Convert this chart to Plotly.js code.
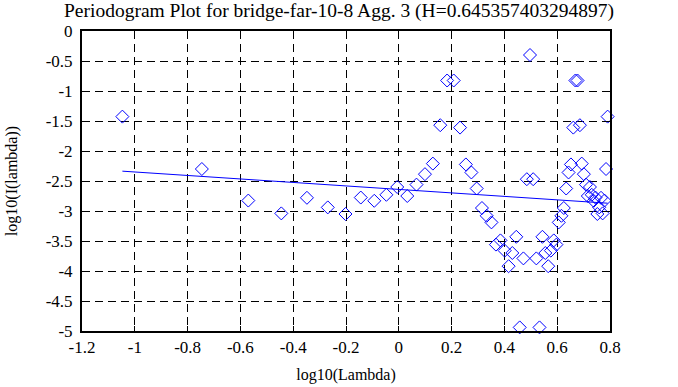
<!DOCTYPE html>
<html>
<head>
<meta charset="utf-8">
<script src="https://cdn.plot.ly/plotly-3.0.1.min.js"></script>
<style>html,body{margin:0;padding:0;background:#fff;}#chart{width:678px;height:387px;}</style>
</head>
<body>
<div id="chart"></div>
<script>
// log10 of frequency
const logLambda = [-1.047,-0.746,-0.570,-0.445,-0.348,-0.269,-0.202,-0.144,-0.093,-0.047,
  -0.006,0.032,0.067,0.099,0.129,0.157,0.183,0.208,0.232,0.254,
  0.275,0.295,0.315,0.333,0.351,0.368,0.385,0.401,0.416,0.430,
  0.445,0.458,0.472,0.485,0.497,0.509,0.521,0.533,0.544,0.555,
  0.566,0.576,0.587,0.597,0.606,0.616,0.625,0.634,0.643,0.652,
  0.661,0.669,0.677,0.686,0.693,0.701,0.709,0.716,0.724,0.731,
  0.738,0.745,0.752,0.759,0.766,0.772,0.779,0.785,0.791];
// log10 of periodogram values
const logI = [-1.427,-2.30,-2.826,-3.04,-2.78,-2.94,-3.05,-2.776,-2.83,-2.73,
  -2.60,-2.75,-2.56,-2.386,-2.21,-1.57,-0.825,-0.825,-1.61,-2.224,
  -2.358,-2.625,-2.95,-3.08,-3.19,-3.56,-3.49,-3.66,-3.92,-3.70,
  -3.43,-4.94,-3.79,-2.47,-0.40,-2.47,-3.79,-4.94,-3.43,-3.70,
  -3.92,-3.66,-3.49,-3.56,-3.19,-3.08,-2.95,-2.625,-2.358,-2.224,
  -1.61,-0.825,-0.825,-1.57,-2.21,-2.386,-2.56,-2.75,-2.60,-2.73,
  -2.83,-2.776,-3.05,-2.94,-2.78,-3.04,-2.826,-2.30,-1.427];
// fitted regression line endpoints
const fitX = [-1.047, 0.791];
const fitY = [-2.336, -2.870];

const xTicks = [-1.2,-1,-0.8,-0.6,-0.4,-0.2,0,0.2,0.4,0.6,0.8];
const yTicks = [0,-0.5,-1,-1.5,-2,-2.5,-3,-3.5,-4,-4.5,-5];

const FAM = 'Liberation Serif, Times New Roman, serif';

const traces = [
  {x: logLambda, y: logI, type: 'scatter', mode: 'markers',
   marker: {symbol: 'diamond-open', size: 10, color: '#0000ff', line: {width: 1, color: '#0000ff'}},
   showlegend: false, cliponaxis: false},
  {x: fitX, y: fitY, type: 'scatter', mode: 'lines',
   line: {color: '#0000ff', width: 1}, showlegend: false}
];

function axisCommon() {
  return {
    showline: true, linecolor: '#000', linewidth: 2, mirror: 'ticks',
    ticks: 'inside', ticklen: 5, tickcolor: '#000', tickwidth: 1,
    showgrid: true, gridcolor: '#000', gridwidth: 1, griddash: '8px,5px',
    zeroline: false, tickfont: {family: FAM, size: 17, color: '#000'}
  };
}

const layout = {
  width: 678, height: 387,
  margin: {l: 82, r: 68, t: 31, b: 56},
  paper_bgcolor: '#fff', plot_bgcolor: '#fff',
  font: {family: FAM, color: '#000'},
  title: {text: 'Periodogram Plot for bridge-far-10-8 Agg. 3 (H=0.645357403294897)',
          font: {family: FAM, size: 19.5, color: '#000'}, x: 0.5, xref: 'container', y: 0.975, yref: 'container', yanchor: 'middle'},
  xaxis: Object.assign(axisCommon(), {
    range: [-1.2, 0.8], tickvals: xTicks, ticktext: xTicks.map(String),
    title: {text: 'log10(Lambda)', font: {family: FAM, size: 16, color: '#000'}, standoff: 12}
  }),
  yaxis: Object.assign(axisCommon(), {
    range: [-5, 0], tickvals: yTicks, ticktext: yTicks.map(String), ticklabelstandoff: 4,
    title: {text: 'log10(I(lambda))', font: {family: FAM, size: 16, color: '#000'}, standoff: 24}
  })
};

Plotly.newPlot('chart', traces, layout, {staticPlot: true, displayModeBar: false});
</script>
</body>
</html>
